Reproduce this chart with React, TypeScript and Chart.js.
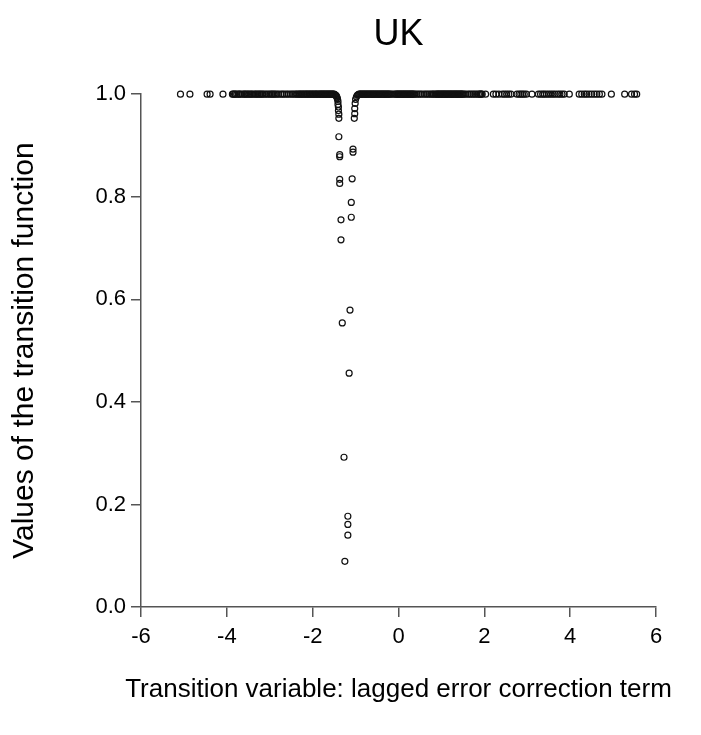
import React, { useEffect, useRef } from "react";
import { Chart, registerables } from "chart.js";

Chart.register(...registerables);

const FONT = "'Liberation Sans', Arial, sans-serif";

const chartTitle = "UK";
const xAxisTitle = "Transition variable: lagged error correction term";
const yAxisTitle = "Values of the transition function";

const xTicks = [-6, -4, -2, 0, 2, 4, 6];
const yTicks = [0.0, 0.2, 0.4, 0.6, 0.8, 1.0];

// Points lying on the upper regime (value = 1.0)
const upperX = [
  -5.08, -4.86, -4.46, -4.39, -4.09,
  -3.87, -3.85, -3.82, -3.80, -3.77, -3.73, -3.71, -3.68, -3.64, -3.60, -3.58, -3.55,
  -3.52, -3.49, -3.46, -3.43, -3.40, -3.36, -3.33, -3.30, -3.27, -3.24, -3.21, -3.18,
  -3.15, -3.11, -3.07, -3.03, -2.99, -2.96, -2.93, -2.90, -2.87, -2.83, -2.79, -2.74,
  -2.70, -2.66, -2.61, -2.57, -2.52, -2.48, -2.44, -2.40, -2.37, -2.34, -2.31, -2.29,
  -2.26, -2.24, -2.21, -2.19, -2.16, -2.14, -2.12, -2.09, -2.07, -2.05, -2.02, -2.00,
  -1.98, -1.95, -1.93, -1.91, -1.89, -1.86, -1.84, -1.82, -1.80, -1.78, -1.76, -1.74,
  -1.72, -1.70, -1.68, -1.66, -1.64, -1.62, -1.60, -1.58, -1.56, -1.54, -1.52, -1.50,
  -0.92, -0.90, -0.88, -0.86, -0.84, -0.82, -0.80, -0.78, -0.76, -0.74, -0.72, -0.70,
  -0.68, -0.66, -0.64, -0.62, -0.60, -0.58, -0.56, -0.54, -0.52, -0.50, -0.48, -0.46,
  -0.44, -0.42, -0.40, -0.38, -0.36, -0.34, -0.32, -0.30, -0.28, -0.26, -0.24, -0.22,
  -0.20, -0.17, -0.13, -0.09, -0.06, -0.04, -0.02, 0.00, 0.02, 0.04, 0.06, 0.08, 0.10,
  0.12, 0.14, 0.16, 0.18, 0.20, 0.22, 0.24, 0.26, 0.28, 0.30, 0.32, 0.34, 0.36, 0.39,
  0.43, 0.47, 0.51, 0.55, 0.60, 0.64, 0.68, 0.72, 0.76, 0.79, 0.82, 0.85, 0.88, 0.90,
  0.92, 0.94, 0.96, 0.98, 1.00, 1.02, 1.04, 1.06, 1.08, 1.10, 1.12, 1.14, 1.16, 1.18,
  1.20, 1.22, 1.24, 1.26, 1.28, 1.30, 1.32, 1.34, 1.36, 1.38, 1.40, 1.42, 1.44, 1.46,
  1.48, 1.50, 1.53, 1.57, 1.62, 1.66, 1.70, 1.74, 1.78, 1.82, 1.86, 1.89, 1.91, 1.93,
  1.95, 2.03, 2.21, 2.27, 2.34, 2.42, 2.47, 2.52, 2.57, 2.62, 2.76, 2.81, 2.85, 2.89,
  2.93, 2.98, 3.11, 3.26, 3.31, 3.36, 3.40, 3.45, 3.50, 3.55, 3.60, 3.65, 3.71, 3.76,
  3.81, 3.86, 3.98, 4.21, 4.27, 4.33, 4.38, 4.44, 4.50, 4.56, 4.62, 4.68, 4.74, 4.96,
  5.27, 5.43, 5.50, 5.55,
];

// Points in the transition (dip) region
const dipX = [
  -1.48, -1.46, -1.45, -1.44, -1.43, -1.42, -1.41, -1.41, -1.40, -1.40, -1.39, -1.39,
  -1.39, -1.37, -1.37, -1.37, -1.37, -1.34, -1.34, -1.31, -1.27, -1.25,
  -1.18, -1.18, -1.18, -1.15, -1.13,
  -1.10, -1.10, -1.08, -1.06, -1.06, -1.03, -1.02, -1.02, -1.01, -1.00, -0.98, -0.96, -0.94,
];
const dipY = [
  0.999, 0.998, 0.997, 0.995, 0.993, 0.990, 0.986, 0.980, 0.975, 0.968, 0.961, 0.953,
  0.917, 0.882, 0.878, 0.834, 0.826, 0.755, 0.716, 0.554, 0.292, 0.089,
  0.177, 0.161, 0.140, 0.456, 0.579,
  0.760, 0.789, 0.835, 0.893, 0.887, 0.953, 0.962, 0.972, 0.982, 0.990, 0.995, 0.998, 0.999,
];

const AXIS_COLOR = "#555555";

// Draws the x-axis title centred under the plot area without width squeezing
const xTitlePlugin = {
  id: "xTitlePlugin",
  afterDraw(chart: any) {
    const { ctx, chartArea } = chart;
    ctx.save();
    ctx.font = `26px ${FONT}`;
    ctx.fillStyle = "#000";
    ctx.textAlign = "center";
    ctx.textBaseline = "middle";
    ctx.fillText(xAxisTitle, (chartArea.left + chartArea.right) / 2, chartArea.bottom + 83);
    ctx.restore();
  },
};

export default function App() {
  const canvasRef = useRef<HTMLCanvasElement | null>(null);

  useEffect(() => {
    if (!canvasRef.current) return;
    const points = [
      ...upperX.map((x) => ({ x, y: 1.0 })),
      ...dipX.map((x, i) => ({ x, y: dipY[i] })),
    ];
    const chart = new Chart(canvasRef.current, {
      type: "scatter",
      data: {
        datasets: [
          {
            data: points,
            pointStyle: "circle",
            pointRadius: 3,
            pointBorderWidth: 1.2,
            pointBackgroundColor: "rgba(255,255,255,0)",
            pointBorderColor: "#111111",
            clip: false as any,
          },
        ],
      },
      plugins: [xTitlePlugin],
      options: {
        animation: false,
        responsive: true,
        maintainAspectRatio: false,
        layout: { padding: { left: 0, right: 45, top: 0, bottom: 0 } },
        plugins: {
          legend: { display: false },
          tooltip: { enabled: false },
          title: {
            display: true,
            fullSize: false,
            text: chartTitle,
            color: "#000",
            font: { family: FONT, size: 36, weight: "normal" },
            padding: { top: 13, bottom: 38 },
          },
        },
        scales: {
          x: {
            type: "linear",
            min: -6,
            max: 6,
            afterFit: (scale: any) => {
              scale.height = 128;
            },
            afterBuildTicks: (scale: any) => {
              scale.ticks = xTicks.map((v) => ({ value: v }));
            },
            ticks: {
              color: "#000",
              font: { family: FONT, size: 22 },
              padding: 7,
              callback: (v: any) => String(v),
              maxRotation: 0,
            },
            grid: {
              display: true,
              drawOnChartArea: false,
              drawTicks: true,
              tickLength: 10,
              color: AXIS_COLOR,
              lineWidth: 1.5,
            },
            border: { display: true, color: AXIS_COLOR, width: 1.5 },
            title: { display: false },
          },
          y: {
            type: "linear",
            min: 0,
            max: 1,
            afterFit: (scale: any) => {
              scale.width = 141;
            },
            afterBuildTicks: (scale: any) => {
              scale.ticks = yTicks.map((v) => ({ value: v }));
            },
            ticks: {
              color: "#000",
              font: { family: FONT, size: 22 },
              padding: 5,
              callback: (v: any) => Number(v).toFixed(1),
            },
            grid: {
              display: true,
              drawOnChartArea: false,
              drawTicks: true,
              tickLength: 10,
              color: AXIS_COLOR,
              lineWidth: 1.5,
            },
            border: { display: true, color: AXIS_COLOR, width: 1.5 },
            title: {
              display: true,
              text: yAxisTitle,
              color: "#000",
              font: { family: FONT, size: 30 },
              padding: { top: 7, bottom: 0 },
            },
          },
        },
      },
    });
    return () => chart.destroy();
  }, []);

  return (
    <div style={{ position: "fixed", left: 0, top: 0, width: 701, height: 735, background: "#fff" }}>
      <canvas ref={canvasRef} />
    </div>
  );
}
